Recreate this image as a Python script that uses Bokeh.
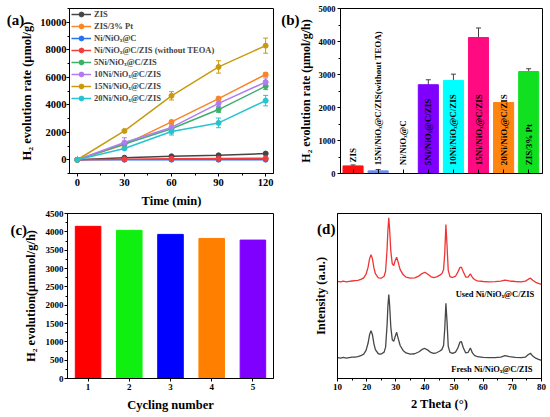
import numpy as np
from bokeh.plotting import figure
from bokeh.models import (ColumnDataSource, Range1d, SingleIntervalTicker,
                          FixedTicker, Whisker, TeeHead, Label)
from bokeh.layouts import row, column
from bokeh.embed import file_html
from bokeh.resources import INLINE
from bokeh.core.properties import value

FONT = "Liberation Serif"

# ---------------- (a) H2 evolution vs time ----------------
times = [0, 30, 60, 90, 120]
a_names = ["ZIS", "ZIS/3% Pt", "Ni/NiOₓ@C", "Ni/NiOₓ@C/ZIS (without TEOA)",
           "5Ni/NiOₓ@C/ZIS", "10Ni/NiOₓ@C/ZIS", "15Ni/NiOₓ@C/ZIS", "20Ni/NiOₓ@C/ZIS"]
a_colors = ["#454545", "#FA8526", "#2872EE", "#F03E3E",
            "#3DAE6C", "#B17CEE", "#C99A10", "#27C3CF"]
a_zis = [0, 150, 250, 320, 450]
a_zis_pt = [0, 1100, 2750, 4450, 6200]
a_ninio = [0, 3, 5, 6, 8]
a_teoa = [0, 40, 70, 90, 110]
a_5ni = [0, 1150, 2250, 3650, 5350]
a_10ni = [0, 1250, 2350, 4100, 5650]
a_15ni = [0, 2100, 4650, 6750, 8300]
a_20ni = [0, 820, 2050, 2680, 4300]
a_series = [a_zis, a_zis_pt, a_ninio, a_teoa, a_5ni, a_10ni, a_15ni, a_20ni]
e_zis = [0, 30, 30, 40, 40]
e_zis_pt = [0, 80, 120, 100, 120]
e_ninio = [0, 0, 0, 0, 0]
e_teoa = [0, 10, 10, 10, 10]
e_5ni = [0, 100, 150, 200, 250]
e_10ni = [0, 350, 200, 250, 300]
e_15ni = [0, 100, 300, 450, 550]
e_20ni = [0, 80, 250, 350, 380]
a_errors = [e_zis, e_zis_pt, e_ninio, e_teoa, e_5ni, e_10ni, e_15ni, e_20ni]

# ---------------- (b) rates ----------------
b_labels = ["ZIS", "15Ni/NiOₓ@C/ZIS(without TEOA)", "Ni/NiOₓ@C", "5Ni/NiOₓ@C/ZIS",
            "10Ni/NiOₓ@C/ZIS", "15Ni/NiOₓ@C/ZIS", "20Ni/NiOₓ@C/ZIS", "ZIS/3% Pt"]
b_values = [230, 80, 0, 2690, 2820, 4120, 2150, 3090]
b_errors = [30, 40, 0, 150, 190, 290, 0, 85]
b_label_y = [330, 250, 250, 250, 250, 250, 250, 250]
b_colors = ["#FF1010", "#6E8DEE", "#FFFFFF", "#8000FF", "#00FFFF", "#FF0A80", "#FF8410", "#10E020"]

# ---------------- (c) cycling ----------------
c_cycles = [1, 2, 3, 4, 5]
c_values = [4150, 4040, 3930, 3820, 3775]
c_colors = ["#FF0000", "#10F010", "#0000FF", "#FF8000", "#8000FF"]

# ---------------- (d) XRD ----------------
xrd_theta = [10, 11, 12, 13, 14, 15, 16, 17, 18, 19, 19.8, 20.5, 21, 21.5, 22, 22.5, 23, 24, 25,
             26, 26.5, 27, 27.3, 27.6, 27.9, 28.3, 28.8, 29.3, 29.8, 30.3, 30.8, 31.5, 32.5, 33.5,
             35, 36.5, 38, 39, 40, 41, 42, 43, 44, 45, 45.8, 46.4, 46.8, 47.2, 47.6, 48, 48.6,
             49.5, 50.5, 51.3, 52, 52.5, 53.2, 54, 54.8, 55.6, 56.3, 57, 58, 60, 62, 64, 66,
             67.5, 69, 71, 73, 74.5, 75.5, 76.2, 77, 78, 79, 80]
xrd_fresh = [12.6, 12.3, 12.8, 12.4, 12.7, 12.9, 13.0, 13.2, 13.8, 14.8, 17, 21.5, 26.5, 29, 26.5,
             21, 17.5, 15, 14.8, 16, 19, 32, 44, 50.9, 44, 31, 23.5, 22.5, 25.5, 28, 24.5, 20,
             17, 15.5, 14.8, 15, 16.2, 17.6, 18.2, 17.2, 15.8, 15.2, 15.6, 16.5, 17.5, 20, 30,
             45.6, 34, 19.5, 15.8, 15.2, 16, 18.5, 22, 22.4, 18.5, 15.5, 15.8, 18.5, 15.5, 14,
             13.2, 12.8, 12.6, 12.7, 13, 13.8, 13.2, 12.8, 12.6, 13, 14.5, 15.3, 13.6, 12.3,
             11.6, 11]
xrd_used = [58.8, 58.5, 59, 58.6, 58.9, 59.1, 59.3, 59.5, 60.1, 61, 63.2, 67.5, 72.5, 75, 72.5,
            67, 63.5, 61, 60.8, 62, 65, 78, 90, 97.4, 90, 77, 69.5, 68.5, 71.5, 73.5, 70.5, 66,
            63, 61.5, 60.8, 61, 62.2, 63.6, 64.4, 63.2, 61.8, 61.2, 61.6, 62.5, 63.5, 66, 76,
            93.3, 80, 65.5, 61.8, 61.2, 62, 64.5, 67.2, 67.5, 64.5, 61.5, 61.5, 63.4, 61.2, 60,
            59.2, 58.8, 58.6, 58.7, 59, 59.6, 59.1, 58.8, 58.6, 59, 60.2, 60.8, 59.5, 58.3,
            57.6, 57]


def style(p, tick_size, title_size):
    p.outline_line_color = "black"
    p.outline_line_width = 1
    p.grid.visible = False
    p.background_fill_color = "white"
    p.border_fill_color = "white"
    for ax in p.axis:
        ax.axis_line_color = "black"
        ax.axis_line_width = 1
        ax.major_tick_line_color = "black"
        ax.minor_tick_line_color = "black"
        ax.major_tick_out = 3
        ax.major_tick_in = 0
        ax.minor_tick_out = 2
        ax.minor_tick_in = 0
        ax.major_label_text_font = FONT
        ax.major_label_text_font_style = "bold"
        ax.major_label_text_font_size = tick_size
        ax.major_label_text_color = "black"
        ax.axis_label_text_font = FONT
        ax.axis_label_text_font_style = "bold"
        ax.axis_label_text_font_size = title_size
        ax.axis_label_text_color = "black"


def panel_label(p, text, x, y):
    # placed in the left side panel so that it is not clipped to the frame
    p.add_layout(Label(x=x, y=y, text=text,
                       text_font=FONT, text_font_style="bold", text_font_size="15px",
                       text_baseline="middle", text_align="left", text_color="black"), "left")


# ----- figure (a)
pa = figure(width=277, height=210, output_backend="svg", toolbar_location=None,
            x_range=Range1d(-5, 125), y_range=Range1d(-1000, 11000),
            min_border_left=68, min_border_right=4, min_border_top=8, min_border_bottom=36)
for name, col, vals, errs in zip(a_names, a_colors, a_series, a_errors):
    pa.line(times, vals, line_color=col, line_width=1.5, legend_label=name)
    pa.scatter(times, vals, size=5, marker="circle", fill_color=col, line_color=col,
               legend_label=name)
    xs = [t for t, e in zip(times, errs) if e > 0]
    if xs:
        up = [v + e for v, e in zip(vals, errs) if e > 0]
        lo = [v - e for v, e in zip(vals, errs) if e > 0]
        src = ColumnDataSource(dict(x=xs, upper=up, lower=lo))
        pa.add_layout(Whisker(source=src, base="x", upper="upper", lower="lower",
                              line_color=col, line_width=1,
                              upper_head=TeeHead(size=5, line_color=col, line_width=1),
                              lower_head=TeeHead(size=5, line_color=col, line_width=1)))
pa.xaxis.ticker = SingleIntervalTicker(interval=30, num_minor_ticks=2)
pa.yaxis.ticker = SingleIntervalTicker(interval=2000, num_minor_ticks=2)
pa.xaxis.axis_label = "Time (min)"
pa.yaxis.axis_label = "H₂ evolution rate (μmol/g)"
style(pa, "10.5px", "12.5px")
pa.yaxis.major_label_standoff = 0
pa.yaxis.axis_label_standoff = 3
pa.xaxis.major_label_standoff = 2
pa.xaxis.axis_label_standoff = 5
lg = pa.legend[0]
lg.location = (2, 69)
lg.margin = 0
lg.padding = 0
lg.spacing = 0
lg.label_height = 12
lg.glyph_height = 12
lg.glyph_width = 20
lg.label_standoff = 3
lg.label_text_font = FONT
lg.label_text_font_style = "bold"
lg.label_text_font_size = "8.5px"
lg.background_fill_alpha = 0
lg.border_line_alpha = 0
panel_label(pa, "(a)", -45, 10150)

# ----- figure (b)
pb = figure(width=273, height=210, output_backend="svg", toolbar_location=None,
            x_range=Range1d(0.5, 8.55), y_range=Range1d(0, 5000),
            min_border_left=60, min_border_right=8, min_border_top=8, min_border_bottom=37)
b_x = list(range(1, len(b_values) + 1))
pb.vbar(x=b_x, top=b_values, width=0.8, fill_color=b_colors, line_color=b_colors)
b_ex = [x for x, e in zip(b_x, b_errors) if e > 0]
b_up = [v + e for v, e in zip(b_values, b_errors) if e > 0]
b_lo = [v - e for v, e in zip(b_values, b_errors) if e > 0]
pb.add_layout(Whisker(source=ColumnDataSource(dict(x=b_ex, upper=b_up, lower=b_lo)),
                      base="x", upper="upper", lower="lower", line_color="#404040",
                      upper_head=TeeHead(size=5, line_color="#404040"),
                      lower_head=TeeHead(size=5, line_color="#404040")))
pb.text(x=b_x, y=b_label_y, text=b_labels, angle=np.pi / 2, text_align="left",
        text_baseline="middle", text_font=value(FONT), text_font_style="bold",
        text_font_size="9px", text_color="black")
# unlabeled inward ticks at each bar (drawn as minor ticks, so no empty labels)
pb.xaxis.ticker = FixedTicker(ticks=[], minor_ticks=b_x)
pb.yaxis.ticker = SingleIntervalTicker(interval=1000, num_minor_ticks=2)
pb.yaxis.axis_label = "H₂ evolution rate (μmol/g/h)"
style(pb, "8.5px", "12px")
pb.xaxis.minor_tick_in = 4
pb.xaxis.minor_tick_out = 0
pb.xaxis.major_tick_out = 0
pb.yaxis.major_label_standoff = 2
pb.yaxis.axis_label_standoff = 3
panel_label(pb, "(b)", -1.86, 4637)

# ----- figure (c)
pc = figure(width=277, height=207, output_backend="svg", toolbar_location=None,
            x_range=Range1d(0.5, 5.5), y_range=Range1d(0, 4500),
            min_border_left=67, min_border_right=4, min_border_top=3, min_border_bottom=38)
pc.vbar(x=c_cycles, top=c_values, width=0.62, fill_color=c_colors, line_color=c_colors)
pc.xaxis.ticker = FixedTicker(ticks=c_cycles)
pc.yaxis.ticker = SingleIntervalTicker(interval=500, num_minor_ticks=2)
pc.xaxis.axis_label = "Cycling number"
pc.yaxis.axis_label = "H₂ evolution(μmmol/g/h)"
style(pc, "9px", "12.5px")
pc.yaxis.major_label_standoff = 1
pc.yaxis.axis_label_standoff = 5
pc.xaxis.major_label_standoff = 2
pc.xaxis.axis_label_standoff = 5
panel_label(pc, "(c)", -0.886, 4039)

# ----- figure (d)
pd_ = figure(width=273, height=207, output_backend="svg", toolbar_location=None,
             x_range=Range1d(10, 80), y_range=Range1d(0, 100),
             min_border_left=60, min_border_right=9, min_border_top=3, min_border_bottom=39)
pd_.line(xrd_theta, xrd_used, line_color="#F03434", line_width=1.3)
pd_.line(xrd_theta, xrd_fresh, line_color="#474747", line_width=1.3)
pd_.text(x=[77.5, 76.9], y=[51.3, 5.5],
         text=["Used Ni/NiOₓ@C/ZIS", "Fresh Ni/NiOₓ@C/ZIS"],
         text_align="right", text_baseline="middle", text_font=value(FONT),
         text_font_style="bold", text_font_size="8.5px", text_color="black")
pd_.xaxis.ticker = SingleIntervalTicker(interval=10, num_minor_ticks=2)
pd_.yaxis.ticker = FixedTicker(ticks=[], minor_ticks=[])
pd_.xaxis.axis_label = "2 Theta (°)"
pd_.yaxis.axis_label = "Intensity (a.u.)"
style(pd_, "9px", "12.5px")
pd_.yaxis.major_tick_out = 0
pd_.yaxis.minor_tick_out = 0
pd_.yaxis.axis_label_standoff = 10
pd_.xaxis.major_label_standoff = 2
pd_.xaxis.axis_label_standoff = 4
panel_label(pd_, "(d)", 3, 90.9)

layout = column(row(pa, pb), row(pc, pd_))
open("out.html", "w").write(file_html(layout, INLINE))
